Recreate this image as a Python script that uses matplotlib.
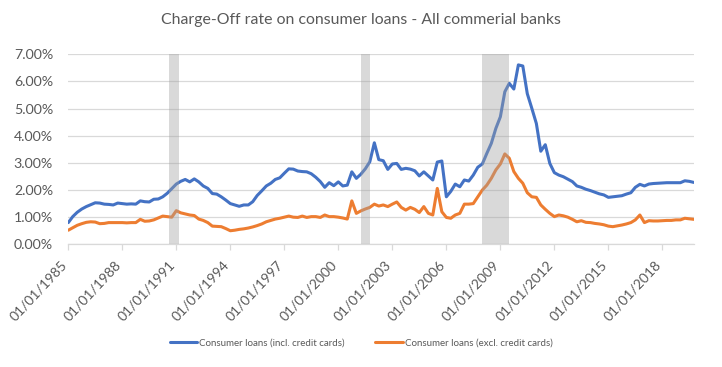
import pandas as pd
import matplotlib
matplotlib.use("Agg")
import matplotlib.pyplot as plt
import matplotlib.dates as mdates
import matplotlib.transforms as mtransforms
from matplotlib.ticker import FuncFormatter

# quarterly charge-off rates (%), 1985Q1 .. 2019Q4
start_date = "1985-01-01"
incl_cards = [
    0.80, 1.02, 1.18, 1.30,  1.39, 1.46, 1.53, 1.52,  1.48, 1.47, 1.45, 1.52,
    1.50, 1.48, 1.49, 1.48,  1.60, 1.57, 1.56, 1.66,  1.67, 1.75, 1.88, 2.05,
    2.22, 2.32, 2.39, 2.30,  2.41, 2.30, 2.15, 2.06,  1.87, 1.85, 1.75, 1.63,
    1.50, 1.45, 1.40, 1.45,  1.45, 1.57, 1.80, 1.97,  2.15, 2.25, 2.39, 2.45,
    2.62, 2.78, 2.77, 2.70,  2.68, 2.67, 2.60, 2.47,  2.31, 2.10, 2.27, 2.16,
    2.30, 2.15, 2.18, 2.67,  2.43, 2.58, 2.78, 3.04,  3.74, 3.12, 3.08, 2.76,
    2.96, 2.98, 2.76, 2.80,  2.77, 2.71, 2.52, 2.67,  2.52, 2.37, 3.03, 3.07,
    1.75, 1.95, 2.22, 2.12,  2.37, 2.33, 2.55, 2.84,  2.96, 3.35, 3.72, 4.27,
    4.70, 5.62, 5.93, 5.72,  6.61, 6.57, 5.55, 5.01,  4.45, 3.43, 3.67, 2.98,
    2.64, 2.55, 2.49, 2.40,  2.31, 2.15, 2.10, 2.03,  1.98, 1.92, 1.86, 1.82,
    1.73, 1.75, 1.77, 1.79,  1.85, 1.90, 2.10, 2.21,  2.15, 2.22, 2.24, 2.25,
    2.26, 2.27, 2.27, 2.27,  2.27, 2.34, 2.32, 2.28,
]
excl_cards = [
    0.52, 0.61, 0.70, 0.76,  0.81, 0.83, 0.82, 0.76,  0.77, 0.80, 0.80, 0.80,
    0.80, 0.79, 0.80, 0.80,  0.92, 0.85, 0.86, 0.90,  0.97, 1.04, 1.02, 1.00,
    1.24, 1.16, 1.12, 1.08,  1.06, 0.93, 0.88, 0.80,  0.67, 0.66, 0.65, 0.58,
    0.50, 0.52, 0.55, 0.57,  0.60, 0.64, 0.69, 0.75,  0.83, 0.88, 0.93, 0.96,
    1.00, 1.04, 1.00, 0.99,  1.04, 0.99, 1.02, 1.02,  0.99, 1.08, 1.02, 1.02,
    1.00, 0.97, 0.93, 1.60,  1.14, 1.23, 1.30, 1.36,  1.48, 1.41, 1.45, 1.39,
    1.48, 1.56, 1.36, 1.26,  1.36, 1.29, 1.17, 1.39,  1.14, 1.08, 2.06, 1.20,
    0.99, 0.96, 1.08, 1.14,  1.48, 1.48, 1.50, 1.75,  2.00, 2.18, 2.43, 2.74,
    2.96, 3.33, 3.17, 2.68,  2.43, 2.25, 1.90, 1.75,  1.73, 1.45, 1.29, 1.14,
    1.02, 1.08, 1.05, 1.00,  0.92, 0.83, 0.87, 0.81,  0.80, 0.77, 0.75, 0.72,
    0.67, 0.65, 0.68, 0.71,  0.75, 0.80, 0.90, 1.08,  0.80, 0.87, 0.86, 0.86,
    0.87, 0.88, 0.88, 0.90,  0.90, 0.96, 0.94, 0.92,
]
recessions = [("1990-08-01", "1991-03-01"),
              ("2001-04-01", "2001-10-01"),
              ("2008-01-01", "2009-07-01")]
tick_years = list(range(1985, 2019, 3))
series_names = ["Consumer loans (incl. credit cards)",
                "Consumer loans (excl. credit cards)"]
title = "Charge-Off rate on consumer loans - All commerial banks"

dates = pd.date_range(start_date, periods=len(incl_cards), freq="QS")
tick_dates = [pd.Timestamp(year=y, month=1, day=1) for y in tick_years]

txt_color = "#595959"
grid_color = "#D9D9D9"

fig = plt.figure(figsize=(7.22, 3.67), dpi=100)
ax = fig.add_axes([0.0946, 0.3343, 0.961 - 0.0946, 0.852 - 0.3343])

ax.plot(dates, incl_cards, color="#4472C4", lw=2.2, label=series_names[0],
        solid_capstyle="round", zorder=3)
ax.plot(dates, excl_cards, color="#ED7D31", lw=2.2, label=series_names[1],
        solid_capstyle="round", zorder=3)

# recession bands drawn over the lines, semi-transparent
for s, e in recessions:
    ax.axvspan(pd.Timestamp(s), pd.Timestamp(e), color="#A0A0A0", alpha=0.4,
               lw=0, zorder=4)

ax.set_xlim(dates[0], dates[-1])
ax.set_ylim(0, 7)
ax.set_yticks(range(0, 8))
ax.yaxis.set_major_formatter(FuncFormatter(lambda v, p: "%.2f%%" % v))
ax.grid(axis="y", color=grid_color, lw=0.9, zorder=0)
ax.set_axisbelow(True)

ax.set_xticks(tick_dates)
ax.xaxis.set_major_formatter(mdates.DateFormatter("%d/%m/%Y"))

for sp in ["top", "right", "left"]:
    ax.spines[sp].set_visible(False)
ax.spines["bottom"].set_color(grid_color)
ax.spines["bottom"].set_linewidth(0.9)

ax.tick_params(axis="y", length=0, pad=11, labelsize=10.2, labelcolor=txt_color)
ax.tick_params(axis="x", length=4, width=0.9, color=grid_color, pad=4,
               labelsize=10, labelcolor=txt_color)
for lab in ax.get_yticklabels():
    lab.set_family("Lato")
shift = mtransforms.ScaledTranslation(-8 / 100, -3 / 100, fig.dpi_scale_trans)
for lab in ax.get_xticklabels():
    lab.set_family("Lato")
    lab.set_rotation(47)
    lab.set_ha("right")
    lab.set_va("top")
    lab.set_rotation_mode("anchor")
    lab.set_transform(lab.get_transform() + shift)

fig.text(0.5, 0.945, title, ha="center", va="center", fontsize=11.4,
         color=txt_color, family="Lato")

leg = fig.legend(loc="center", bbox_to_anchor=(0.5, 0.065), ncol=2,
                 frameon=False, handlelength=2.8, handletextpad=0.2,
                 columnspacing=3.2, prop={"family": "Lato", "size": 7})
for t in leg.get_texts():
    t.set_color(txt_color)

fig.savefig("out.png", dpi=100)
